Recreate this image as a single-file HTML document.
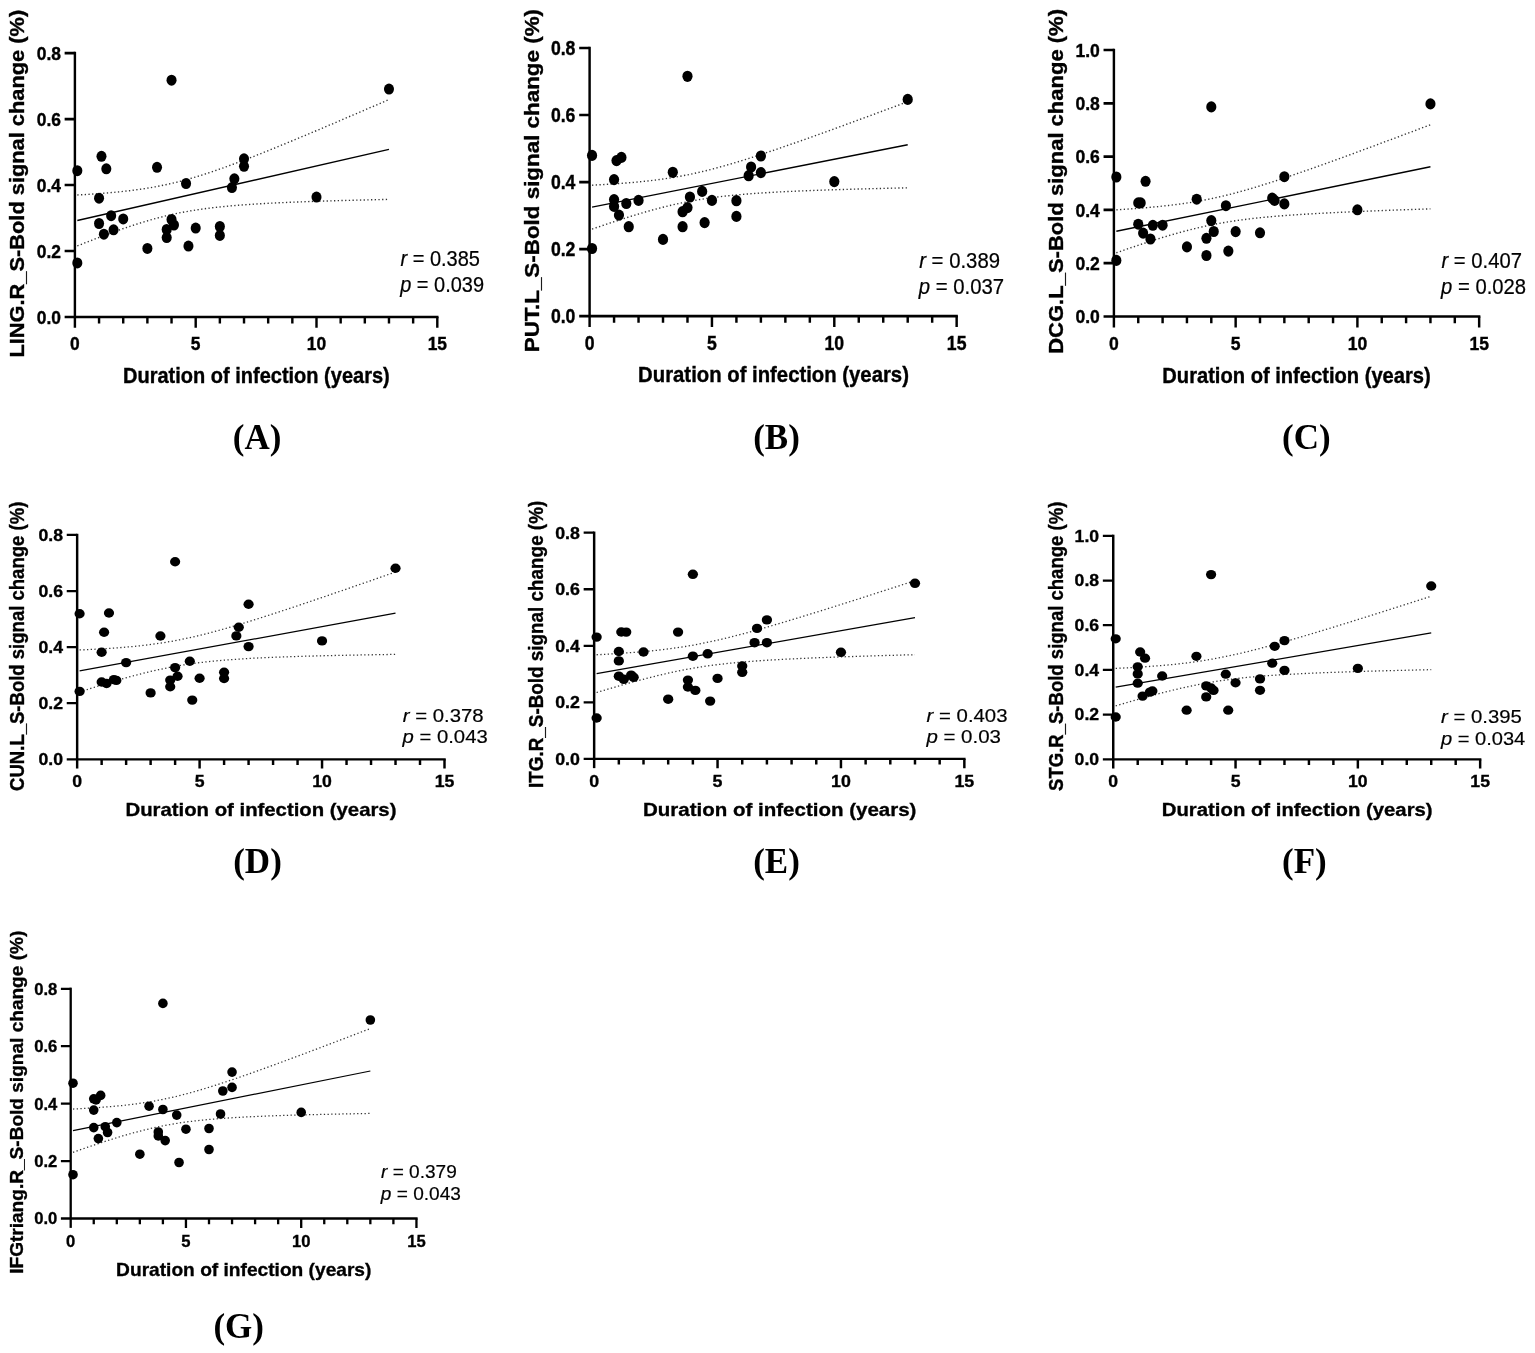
<!DOCTYPE html>
<html lang="en"><head><meta charset="utf-8"><title>S-Bold signal change vs duration of infection</title>
<style>
html,body{margin:0;padding:0;background:#fff}
svg{display:block}
text{font-family:"Liberation Sans",Arial,Helvetica,sans-serif;fill:#000}
.b{font-weight:700;stroke:#000;stroke-width:.35px}
.n{stroke:#000;stroke-width:.2px}
.lab{font-family:"Liberation Serif","Times New Roman",Times,serif;font-size:35px;font-weight:700}
.ci{fill:none;stroke:#333;stroke-dasharray:1.3 2.4}
</style></head>
<body>
<svg width="1535" height="1353" viewBox="0 0 1535 1353">
<rect width="1535" height="1353" fill="#fff"/>
<g id="panelA">
<path d="M74.9 51.78V327.78" stroke="#000" stroke-width="2.42" fill="none"/>
<path d="M64.63 317H438.51" stroke="#000" stroke-width="2.64" fill="none"/>
<path d="M64.63 251.03H74.9M64.63 185.05H74.9M64.63 119.08H74.9M64.63 53.1H74.9" stroke="#000" stroke-width="2.64" fill="none"/>
<path d="M99.06 317v6.6M123.22 317v6.6M147.38 317v6.6M171.54 317v6.6M195.7 317v10.78M219.86 317v6.6M244.02 317v6.6M268.18 317v6.6M292.34 317v6.6M316.5 317v10.78M340.66 317v6.6M364.82 317v6.6M388.98 317v6.6M413.14 317v6.6M437.3 317v10.78" stroke="#000" stroke-width="2.42" fill="none"/>
<text transform="translate(60.91 323.81) scale(1.0067 1.0996)" font-size="17.3" class="b" text-anchor="end">0.0</text>
<text transform="translate(60.91 257.84) scale(1.0067 1.0996)" font-size="17.3" class="b" text-anchor="end">0.2</text>
<text transform="translate(60.91 191.86) scale(1.0067 1.0996)" font-size="17.3" class="b" text-anchor="end">0.4</text>
<text transform="translate(60.91 125.89) scale(1.0067 1.0996)" font-size="17.3" class="b" text-anchor="end">0.6</text>
<text transform="translate(60.91 59.91) scale(1.0067 1.0996)" font-size="17.3" class="b" text-anchor="end">0.8</text>
<text transform="translate(74.9 349.88) scale(1.0067 1.0996)" font-size="17.3" class="b" text-anchor="middle">0</text>
<text transform="translate(195.7 349.88) scale(1.0067 1.0996)" font-size="17.3" class="b" text-anchor="middle">5</text>
<text transform="translate(316.5 349.88) scale(1.0067 1.0996)" font-size="17.3" class="b" text-anchor="middle">10</text>
<text transform="translate(437.3 349.88) scale(1.0067 1.0996)" font-size="17.3" class="b" text-anchor="middle">15</text>
<text transform="translate(256.35 383.1) scale(1.0067 1.0996)" font-size="19.77" class="b" text-anchor="middle" textLength="264.93" lengthAdjust="spacingAndGlyphs">Duration of infection (years)</text>
<text transform="translate(24.2 183.7) scale(1.0067 1.0996) rotate(-90)" font-size="19.77" class="b" text-anchor="middle" textLength="316.3" lengthAdjust="spacingAndGlyphs">LING.R_S-Bold signal change (%)</text>
<text transform="translate(400.5 266.3) scale(1.0067 1.0996)" font-size="19.5" class="n" textLength="78.97" lengthAdjust="spacingAndGlyphs"><tspan font-style="italic">r</tspan> = 0.385</text>
<text transform="translate(400.2 291.8) scale(1.0067 1.0996)" font-size="19.5" class="n" textLength="83.34" lengthAdjust="spacingAndGlyphs"><tspan font-style="italic">p</tspan> = 0.039</text>
<path d="M77.32 195.01L82.51 194.71L87.7 194.38L92.9 194.04L98.09 193.67L103.29 193.27L108.48 192.83L113.68 192.37L118.87 191.86L124.07 191.31L129.26 190.71L134.45 190.05L139.65 189.34L144.84 188.57L150.04 187.72L155.23 186.81L160.43 185.82L165.62 184.74L170.82 183.59L176.01 182.36L181.2 181.04L186.4 179.65L191.59 178.18L196.79 176.64L201.98 175.03L207.18 173.37L212.37 171.64L217.56 169.86L222.76 168.03L227.95 166.16L233.15 164.25L238.34 162.31L243.54 160.34L248.73 158.34L253.93 156.31L259.12 154.26L264.31 152.19L269.51 150.1L274.7 148L279.9 145.88L285.09 143.75L290.29 141.6L295.48 139.45L300.68 137.28L305.87 135.11L311.06 132.92L316.26 130.73L321.45 128.53L326.65 126.33L331.84 124.12L337.04 121.9L342.23 119.68L347.42 117.46L352.62 115.23L357.81 112.99L363.01 110.76L368.2 108.52L373.4 106.27L378.59 104.02L383.79 101.77L388.98 99.52" class="ci" stroke-width="1.37"/>
<path d="M77.32 245.93L82.51 243.87L87.7 241.82L92.9 239.8L98.09 237.8L103.29 235.84L108.48 233.9L113.68 232L118.87 230.14L124.07 228.33L129.26 226.56L134.45 224.85L139.65 223.19L144.84 221.6L150.04 220.07L155.23 218.62L160.43 217.25L165.62 215.95L170.82 214.74L176.01 213.6L181.2 212.55L186.4 211.58L191.59 210.68L196.79 209.85L201.98 209.09L207.18 208.39L212.37 207.75L217.56 207.17L222.76 206.63L227.95 206.13L233.15 205.67L238.34 205.24L243.54 204.85L248.73 204.49L253.93 204.15L259.12 203.83L264.31 203.53L269.51 203.25L274.7 202.99L279.9 202.74L285.09 202.51L290.29 202.28L295.48 202.07L300.68 201.87L305.87 201.68L311.06 201.49L316.26 201.32L321.45 201.15L326.65 200.98L331.84 200.83L337.04 200.68L342.23 200.53L347.42 200.39L352.62 200.25L357.81 200.12L363.01 199.99L368.2 199.86L373.4 199.74L378.59 199.62L383.79 199.5L388.98 199.39" class="ci" stroke-width="1.37"/>
<path d="M77.32 220.47L388.98 149.45" stroke="#000" stroke-width="1.37" fill="none"/>
<ellipse cx="171.54" cy="80.2" rx="5.03" ry="5.5"/>
<ellipse cx="101.48" cy="156.3" rx="5.03" ry="5.5"/>
<ellipse cx="106.31" cy="168.8" rx="5.03" ry="5.5"/>
<ellipse cx="77.32" cy="170.7" rx="5.03" ry="5.5"/>
<ellipse cx="157.04" cy="167.3" rx="5.03" ry="5.5"/>
<ellipse cx="244.02" cy="158.8" rx="5.03" ry="5.5"/>
<ellipse cx="244.02" cy="166.3" rx="5.03" ry="5.5"/>
<ellipse cx="234.36" cy="178.8" rx="5.03" ry="5.5"/>
<ellipse cx="231.94" cy="187.6" rx="5.03" ry="5.5"/>
<ellipse cx="186.04" cy="183.5" rx="5.03" ry="5.5"/>
<ellipse cx="99.06" cy="198.2" rx="5.03" ry="5.5"/>
<ellipse cx="111.14" cy="215.7" rx="5.03" ry="5.5"/>
<ellipse cx="123.22" cy="218.9" rx="5.03" ry="5.5"/>
<ellipse cx="99.06" cy="223.5" rx="5.03" ry="5.5"/>
<ellipse cx="113.56" cy="229.8" rx="5.03" ry="5.5"/>
<ellipse cx="103.89" cy="234.2" rx="5.03" ry="5.5"/>
<ellipse cx="171.54" cy="219.5" rx="5.03" ry="5.5"/>
<ellipse cx="173.96" cy="225" rx="5.03" ry="5.5"/>
<ellipse cx="166.71" cy="229.5" rx="5.03" ry="5.5"/>
<ellipse cx="166.71" cy="237.6" rx="5.03" ry="5.5"/>
<ellipse cx="195.7" cy="228.1" rx="5.03" ry="5.5"/>
<ellipse cx="219.86" cy="226.5" rx="5.03" ry="5.5"/>
<ellipse cx="219.86" cy="235.4" rx="5.03" ry="5.5"/>
<ellipse cx="188.45" cy="246.1" rx="5.03" ry="5.5"/>
<ellipse cx="147.38" cy="248.4" rx="5.03" ry="5.5"/>
<ellipse cx="77.32" cy="262.9" rx="5.03" ry="5.5"/>
<ellipse cx="316.5" cy="197.1" rx="5.03" ry="5.5"/>
<ellipse cx="388.98" cy="89.1" rx="5.03" ry="5.5"/>
<text x="257.15" y="448.7" class="lab" text-anchor="middle">(A)</text>
</g>
<g id="panelB">
<path d="M589.6 46.66V327.05" stroke="#000" stroke-width="2.45" fill="none"/>
<path d="M579.2 316.1H957.87" stroke="#000" stroke-width="2.68" fill="none"/>
<path d="M579.2 249.08H589.6M579.2 182.05H589.6M579.2 115.03H589.6M579.2 48H589.6" stroke="#000" stroke-width="2.68" fill="none"/>
<path d="M614.07 316.1v6.7M638.54 316.1v6.7M663.01 316.1v6.7M687.48 316.1v6.7M711.95 316.1v10.95M736.42 316.1v6.7M760.89 316.1v6.7M785.36 316.1v6.7M809.83 316.1v6.7M834.3 316.1v10.95M858.77 316.1v6.7M883.24 316.1v6.7M907.71 316.1v6.7M932.18 316.1v6.7M956.65 316.1v10.95" stroke="#000" stroke-width="2.45" fill="none"/>
<text transform="translate(575.43 323.02) scale(1.0196 1.1171)" font-size="17.3" class="b" text-anchor="end">0.0</text>
<text transform="translate(575.43 255.99) scale(1.0196 1.1171)" font-size="17.3" class="b" text-anchor="end">0.2</text>
<text transform="translate(575.43 188.97) scale(1.0196 1.1171)" font-size="17.3" class="b" text-anchor="end">0.4</text>
<text transform="translate(575.43 121.94) scale(1.0196 1.1171)" font-size="17.3" class="b" text-anchor="end">0.6</text>
<text transform="translate(575.43 54.92) scale(1.0196 1.1171)" font-size="17.3" class="b" text-anchor="end">0.8</text>
<text transform="translate(589.6 349.5) scale(1.0196 1.1171)" font-size="17.3" class="b" text-anchor="middle">0</text>
<text transform="translate(711.95 349.5) scale(1.0196 1.1171)" font-size="17.3" class="b" text-anchor="middle">5</text>
<text transform="translate(834.3 349.5) scale(1.0196 1.1171)" font-size="17.3" class="b" text-anchor="middle">10</text>
<text transform="translate(956.65 349.5) scale(1.0196 1.1171)" font-size="17.3" class="b" text-anchor="middle">15</text>
<text transform="translate(773.5 382.4) scale(1.0196 1.1171)" font-size="19.77" class="b" text-anchor="middle" textLength="265.6" lengthAdjust="spacingAndGlyphs">Duration of infection (years)</text>
<text transform="translate(539.2 180.65) scale(1.0196 1.1171) rotate(-90)" font-size="19.77" class="b" text-anchor="middle" textLength="307.32" lengthAdjust="spacingAndGlyphs">PUT.L_S-Bold signal change (%)</text>
<text transform="translate(919.2 267.6) scale(1.0196 1.1171)" font-size="19.5" class="n" textLength="79.25" lengthAdjust="spacingAndGlyphs"><tspan font-style="italic">r</tspan> = 0.389</text>
<text transform="translate(918.7 293.8) scale(1.0196 1.1171)" font-size="19.5" class="n" textLength="83.76" lengthAdjust="spacingAndGlyphs"><tspan font-style="italic">p</tspan> = 0.037</text>
<path d="M592.05 185.19L597.31 184.91L602.57 184.61L607.83 184.29L613.09 183.95L618.35 183.59L623.61 183.2L628.87 182.77L634.14 182.32L639.4 181.82L644.66 181.29L649.92 180.71L655.18 180.07L660.44 179.39L665.7 178.64L670.96 177.83L676.22 176.95L681.48 176.01L686.75 175L692.01 173.92L697.27 172.76L702.53 171.54L707.79 170.26L713.05 168.91L718.31 167.5L723.57 166.05L728.83 164.54L734.1 162.98L739.36 161.39L744.62 159.76L749.88 158.09L755.14 156.4L760.4 154.68L765.66 152.93L770.92 151.16L776.18 149.38L781.44 147.57L786.71 145.75L791.97 143.92L797.23 142.07L802.49 140.21L807.75 138.35L813.01 136.47L818.27 134.58L823.53 132.69L828.79 130.78L834.06 128.88L839.32 126.96L844.58 125.04L849.84 123.12L855.1 121.19L860.36 119.25L865.62 117.31L870.88 115.37L876.14 113.43L881.4 111.48L886.67 109.53L891.93 107.57L897.19 105.61L902.45 103.65L907.71 101.69" class="ci" stroke-width="1.39"/>
<path d="M592.05 229.11L597.31 227.31L602.57 225.52L607.83 223.76L613.09 222.02L618.35 220.31L623.61 218.62L628.87 216.96L634.14 215.34L639.4 213.75L644.66 212.21L649.92 210.71L655.18 209.27L660.44 207.87L665.7 206.54L670.96 205.27L676.22 204.06L681.48 202.93L686.75 201.86L692.01 200.86L697.27 199.94L702.53 199.08L707.79 198.28L713.05 197.55L718.31 196.88L723.57 196.26L728.83 195.69L734.1 195.16L739.36 194.68L744.62 194.23L749.88 193.81L755.14 193.43L760.4 193.07L765.66 192.73L770.92 192.42L776.18 192.13L781.44 191.85L786.71 191.59L791.97 191.35L797.23 191.12L802.49 190.89L807.75 190.68L813.01 190.48L818.27 190.29L823.53 190.1L828.79 189.93L834.06 189.76L839.32 189.59L844.58 189.43L849.84 189.28L855.1 189.13L860.36 188.98L865.62 188.84L870.88 188.7L876.14 188.57L881.4 188.44L886.67 188.31L891.93 188.18L897.19 188.06L902.45 187.94L907.71 187.82" class="ci" stroke-width="1.39"/>
<path d="M592.05 207.15L907.71 144.76" stroke="#000" stroke-width="1.39" fill="none"/>
<ellipse cx="687.48" cy="76.3" rx="5.1" ry="5.59"/>
<ellipse cx="592.05" cy="155.4" rx="5.1" ry="5.59"/>
<ellipse cx="616.52" cy="160.6" rx="5.1" ry="5.59"/>
<ellipse cx="621.41" cy="157.4" rx="5.1" ry="5.59"/>
<ellipse cx="614.07" cy="179.6" rx="5.1" ry="5.59"/>
<ellipse cx="672.8" cy="172.3" rx="5.1" ry="5.59"/>
<ellipse cx="760.89" cy="156" rx="5.1" ry="5.59"/>
<ellipse cx="751.1" cy="167" rx="5.1" ry="5.59"/>
<ellipse cx="748.65" cy="175.7" rx="5.1" ry="5.59"/>
<ellipse cx="760.89" cy="172.6" rx="5.1" ry="5.59"/>
<ellipse cx="614.07" cy="199.6" rx="5.1" ry="5.59"/>
<ellipse cx="614.07" cy="206.4" rx="5.1" ry="5.59"/>
<ellipse cx="626.31" cy="203.5" rx="5.1" ry="5.59"/>
<ellipse cx="638.54" cy="200.4" rx="5.1" ry="5.59"/>
<ellipse cx="618.96" cy="215.1" rx="5.1" ry="5.59"/>
<ellipse cx="628.75" cy="226.7" rx="5.1" ry="5.59"/>
<ellipse cx="702.16" cy="191.4" rx="5.1" ry="5.59"/>
<ellipse cx="689.93" cy="197" rx="5.1" ry="5.59"/>
<ellipse cx="711.95" cy="200.4" rx="5.1" ry="5.59"/>
<ellipse cx="736.42" cy="200.7" rx="5.1" ry="5.59"/>
<ellipse cx="687.48" cy="207.6" rx="5.1" ry="5.59"/>
<ellipse cx="682.59" cy="211.7" rx="5.1" ry="5.59"/>
<ellipse cx="736.42" cy="216.4" rx="5.1" ry="5.59"/>
<ellipse cx="704.61" cy="222.6" rx="5.1" ry="5.59"/>
<ellipse cx="682.59" cy="226.7" rx="5.1" ry="5.59"/>
<ellipse cx="663.01" cy="239.4" rx="5.1" ry="5.59"/>
<ellipse cx="592.05" cy="248.5" rx="5.1" ry="5.59"/>
<ellipse cx="834.3" cy="181.6" rx="5.1" ry="5.59"/>
<ellipse cx="907.71" cy="99.4" rx="5.1" ry="5.59"/>
<text x="776.5" y="448.6" class="lab" text-anchor="middle">(B)</text>
</g>
<g id="panelC">
<path d="M1113.9 48.67V327.38" stroke="#000" stroke-width="2.44" fill="none"/>
<path d="M1103.55 316.5H1480.37" stroke="#000" stroke-width="2.66" fill="none"/>
<path d="M1103.55 263.2H1113.9M1103.55 209.9H1113.9M1103.55 156.6H1113.9M1103.55 103.3H1113.9M1103.55 50H1113.9" stroke="#000" stroke-width="2.66" fill="none"/>
<path d="M1138.25 316.5v6.66M1162.6 316.5v6.66M1186.95 316.5v6.66M1211.3 316.5v6.66M1235.65 316.5v10.88M1260 316.5v6.66M1284.35 316.5v6.66M1308.7 316.5v6.66M1333.05 316.5v6.66M1357.4 316.5v10.88M1381.75 316.5v6.66M1406.1 316.5v6.66M1430.45 316.5v6.66M1454.8 316.5v6.66M1479.15 316.5v10.88" stroke="#000" stroke-width="2.44" fill="none"/>
<text transform="translate(1099.8 323.38) scale(1.0146 1.1104)" font-size="17.3" class="b" text-anchor="end">0.0</text>
<text transform="translate(1099.8 270.08) scale(1.0146 1.1104)" font-size="17.3" class="b" text-anchor="end">0.2</text>
<text transform="translate(1099.8 216.78) scale(1.0146 1.1104)" font-size="17.3" class="b" text-anchor="end">0.4</text>
<text transform="translate(1099.8 163.48) scale(1.0146 1.1104)" font-size="17.3" class="b" text-anchor="end">0.6</text>
<text transform="translate(1099.8 110.18) scale(1.0146 1.1104)" font-size="17.3" class="b" text-anchor="end">0.8</text>
<text transform="translate(1099.8 56.88) scale(1.0146 1.1104)" font-size="17.3" class="b" text-anchor="end">1.0</text>
<text transform="translate(1113.9 349.7) scale(1.0146 1.1104)" font-size="17.3" class="b" text-anchor="middle">0</text>
<text transform="translate(1235.65 349.7) scale(1.0146 1.1104)" font-size="17.3" class="b" text-anchor="middle">5</text>
<text transform="translate(1357.4 349.7) scale(1.0146 1.1104)" font-size="17.3" class="b" text-anchor="middle">10</text>
<text transform="translate(1479.15 349.7) scale(1.0146 1.1104)" font-size="17.3" class="b" text-anchor="middle">15</text>
<text transform="translate(1296.5 382.7) scale(1.0146 1.1104)" font-size="19.77" class="b" text-anchor="middle" textLength="264.54" lengthAdjust="spacingAndGlyphs">Duration of infection (years)</text>
<text transform="translate(1063.1 181.4) scale(1.0146 1.1104) rotate(-90)" font-size="19.77" class="b" text-anchor="middle" textLength="310.51" lengthAdjust="spacingAndGlyphs">DCG.L_S-Bold signal change (%)</text>
<text transform="translate(1441.5 268.3) scale(1.0146 1.1104)" font-size="19.5" class="n" textLength="79.24" lengthAdjust="spacingAndGlyphs"><tspan font-style="italic">r</tspan> = 0.407</text>
<text transform="translate(1441.1 293.8) scale(1.0146 1.1104)" font-size="19.5" class="n" textLength="83.68" lengthAdjust="spacingAndGlyphs"><tspan font-style="italic">p</tspan> = 0.028</text>
<path d="M1116.34 209.84L1121.57 209.51L1126.81 209.16L1132.04 208.79L1137.28 208.4L1142.51 207.99L1147.75 207.54L1152.98 207.07L1158.22 206.57L1163.45 206.02L1168.69 205.44L1173.92 204.81L1179.16 204.14L1184.39 203.4L1189.63 202.62L1194.86 201.77L1200.1 200.85L1205.33 199.87L1210.57 198.82L1215.8 197.7L1221.04 196.52L1226.28 195.27L1231.51 193.95L1236.75 192.58L1241.98 191.14L1247.22 189.66L1252.45 188.13L1257.69 186.55L1262.92 184.93L1268.16 183.28L1273.39 181.59L1278.63 179.88L1283.86 178.14L1289.1 176.37L1294.33 174.59L1299.57 172.78L1304.8 170.96L1310.04 169.13L1315.27 167.27L1320.51 165.41L1325.75 163.54L1330.98 161.65L1336.22 159.76L1341.45 157.85L1346.69 155.94L1351.92 154.03L1357.16 152.1L1362.39 150.17L1367.63 148.24L1372.86 146.3L1378.1 144.35L1383.33 142.4L1388.57 140.45L1393.8 138.5L1399.04 136.54L1404.27 134.57L1409.51 132.61L1414.74 130.64L1419.98 128.67L1425.21 126.69L1430.45 124.72" class="ci" stroke-width="1.38"/>
<path d="M1116.34 252.75L1121.57 250.93L1126.81 249.13L1132.04 247.35L1137.28 245.59L1142.51 243.85L1147.75 242.15L1152.98 240.47L1158.22 238.82L1163.45 237.21L1168.69 235.65L1173.92 234.13L1179.16 232.65L1184.39 231.23L1189.63 229.87L1194.86 228.57L1200.1 227.33L1205.33 226.17L1210.57 225.06L1215.8 224.03L1221.04 223.07L1226.28 222.17L1231.51 221.33L1236.75 220.56L1241.98 219.84L1247.22 219.17L1252.45 218.56L1257.69 217.98L1262.92 217.45L1268.16 216.95L1273.39 216.49L1278.63 216.05L1283.86 215.64L1289.1 215.26L1294.33 214.89L1299.57 214.55L1304.8 214.22L1310.04 213.91L1315.27 213.61L1320.51 213.32L1325.75 213.04L1330.98 212.78L1336.22 212.52L1341.45 212.27L1346.69 212.03L1351.92 211.8L1357.16 211.58L1362.39 211.35L1367.63 211.14L1372.86 210.93L1378.1 210.72L1383.33 210.52L1388.57 210.33L1393.8 210.13L1399.04 209.94L1404.27 209.75L1409.51 209.57L1414.74 209.39L1419.98 209.21L1425.21 209.03L1430.45 208.86" class="ci" stroke-width="1.38"/>
<path d="M1116.34 231.3L1430.45 166.79" stroke="#000" stroke-width="1.38" fill="none"/>
<ellipse cx="1211.3" cy="106.9" rx="5.07" ry="5.55"/>
<ellipse cx="1116.34" cy="177" rx="5.07" ry="5.55"/>
<ellipse cx="1145.56" cy="181.3" rx="5.07" ry="5.55"/>
<ellipse cx="1284.35" cy="176.7" rx="5.07" ry="5.55"/>
<ellipse cx="1138.25" cy="202.9" rx="5.07" ry="5.55"/>
<ellipse cx="1140.69" cy="202.9" rx="5.07" ry="5.55"/>
<ellipse cx="1196.69" cy="199.2" rx="5.07" ry="5.55"/>
<ellipse cx="1272.18" cy="198.1" rx="5.07" ry="5.55"/>
<ellipse cx="1274.61" cy="200.4" rx="5.07" ry="5.55"/>
<ellipse cx="1284.35" cy="203.9" rx="5.07" ry="5.55"/>
<ellipse cx="1225.91" cy="205.7" rx="5.07" ry="5.55"/>
<ellipse cx="1211.3" cy="220.6" rx="5.07" ry="5.55"/>
<ellipse cx="1138.25" cy="224.2" rx="5.07" ry="5.55"/>
<ellipse cx="1152.86" cy="225.3" rx="5.07" ry="5.55"/>
<ellipse cx="1162.6" cy="225.2" rx="5.07" ry="5.55"/>
<ellipse cx="1143.12" cy="233.1" rx="5.07" ry="5.55"/>
<ellipse cx="1150.43" cy="239" rx="5.07" ry="5.55"/>
<ellipse cx="1213.74" cy="231.5" rx="5.07" ry="5.55"/>
<ellipse cx="1235.65" cy="231.6" rx="5.07" ry="5.55"/>
<ellipse cx="1260" cy="232.8" rx="5.07" ry="5.55"/>
<ellipse cx="1206.43" cy="238.3" rx="5.07" ry="5.55"/>
<ellipse cx="1186.95" cy="246.9" rx="5.07" ry="5.55"/>
<ellipse cx="1206.43" cy="255.5" rx="5.07" ry="5.55"/>
<ellipse cx="1228.35" cy="251.1" rx="5.07" ry="5.55"/>
<ellipse cx="1116.34" cy="260.4" rx="5.07" ry="5.55"/>
<ellipse cx="1357.4" cy="209.8" rx="5.07" ry="5.55"/>
<ellipse cx="1430.45" cy="103.9" rx="5.07" ry="5.55"/>
<text x="1306.3" y="448.6" class="lab" text-anchor="middle">(C)</text>
</g>
<g id="panelD">
<path d="M77.15 533.78V768.52" stroke="#000" stroke-width="2.45" fill="none"/>
<path d="M66.74 759.35H445.72" stroke="#000" stroke-width="2.24" fill="none"/>
<path d="M66.74 703.24H77.15M66.74 647.12H77.15M66.74 591.01H77.15M66.74 534.9H77.15" stroke="#000" stroke-width="2.24" fill="none"/>
<path d="M101.64 759.35v5.61M126.13 759.35v5.61M150.62 759.35v5.61M175.11 759.35v5.61M199.6 759.35v9.17M224.09 759.35v5.61M248.58 759.35v5.61M273.07 759.35v5.61M297.56 759.35v5.61M322.05 759.35v9.17M346.54 759.35v5.61M371.03 759.35v5.61M395.52 759.35v5.61M420.01 759.35v5.61M444.5 759.35v9.17" stroke="#000" stroke-width="2.45" fill="none"/>
<text transform="translate(62.97 765.14) scale(1.0204 0.9352)" font-size="17.3" class="b" text-anchor="end">0.0</text>
<text transform="translate(62.97 709.03) scale(1.0204 0.9352)" font-size="17.3" class="b" text-anchor="end">0.2</text>
<text transform="translate(62.97 652.92) scale(1.0204 0.9352)" font-size="17.3" class="b" text-anchor="end">0.4</text>
<text transform="translate(62.97 596.8) scale(1.0204 0.9352)" font-size="17.3" class="b" text-anchor="end">0.6</text>
<text transform="translate(62.97 540.69) scale(1.0204 0.9352)" font-size="17.3" class="b" text-anchor="end">0.8</text>
<text transform="translate(77.15 787.31) scale(1.0204 0.9352)" font-size="17.3" class="b" text-anchor="middle">0</text>
<text transform="translate(199.6 787.31) scale(1.0204 0.9352)" font-size="17.3" class="b" text-anchor="middle">5</text>
<text transform="translate(322.05 787.31) scale(1.0204 0.9352)" font-size="17.3" class="b" text-anchor="middle">10</text>
<text transform="translate(444.5 787.31) scale(1.0204 0.9352)" font-size="17.3" class="b" text-anchor="middle">15</text>
<text transform="translate(260.95 815.5) scale(1.0204 0.9352)" font-size="19.77" class="b" text-anchor="middle" textLength="265.48" lengthAdjust="spacingAndGlyphs">Duration of infection (years)</text>
<text transform="translate(24.2 646.3) scale(1.0204 0.9352) rotate(-90)" font-size="19.77" class="b" text-anchor="middle" textLength="309.24" lengthAdjust="spacingAndGlyphs">CUN.L_S-Bold signal change (%)</text>
<text transform="translate(402.8 721.5) scale(1.0204 0.9352)" font-size="19.5" class="n" textLength="79.18" lengthAdjust="spacingAndGlyphs"><tspan font-style="italic">r</tspan> = 0.378</text>
<text transform="translate(402.6 742.9) scale(1.0204 0.9352)" font-size="19.5" class="n" textLength="83.4" lengthAdjust="spacingAndGlyphs"><tspan font-style="italic">p</tspan> = 0.043</text>
<path d="M79.6 649.98L84.86 649.74L90.13 649.49L95.4 649.22L100.66 648.92L105.93 648.61L111.19 648.26L116.46 647.89L121.72 647.49L126.99 647.04L132.25 646.56L137.52 646.04L142.78 645.46L148.05 644.84L153.31 644.15L158.58 643.41L163.84 642.61L169.11 641.74L174.38 640.8L179.64 639.79L184.91 638.72L190.17 637.59L195.44 636.39L200.7 635.13L205.97 633.82L211.23 632.45L216.5 631.04L221.76 629.59L227.03 628.09L232.29 626.57L237.56 625L242.82 623.41L248.09 621.8L253.36 620.16L258.62 618.5L263.89 616.82L269.15 615.13L274.42 613.42L279.68 611.7L284.95 609.96L290.21 608.22L295.48 606.46L300.74 604.7L306.01 602.92L311.27 601.14L316.54 599.35L321.81 597.56L327.07 595.76L332.34 593.95L337.6 592.14L342.87 590.33L348.13 588.51L353.4 586.69L358.66 584.86L363.93 583.03L369.19 581.2L374.46 579.36L379.72 577.53L384.99 575.69L390.25 573.84L395.52 572" class="ci" stroke-width="1.27"/>
<path d="M79.6 691.99L84.86 690.3L90.13 688.62L95.4 686.97L100.66 685.34L105.93 683.73L111.19 682.14L116.46 680.59L121.72 679.07L126.99 677.58L132.25 676.14L137.52 674.74L142.78 673.39L148.05 672.09L153.31 670.84L158.58 669.66L163.84 668.54L169.11 667.48L174.38 666.49L179.64 665.57L184.91 664.72L190.17 663.93L195.44 663.2L200.7 662.53L205.97 661.91L211.23 661.35L216.5 660.84L221.76 660.37L227.03 659.93L232.29 659.54L237.56 659.17L242.82 658.83L248.09 658.52L253.36 658.23L258.62 657.97L263.89 657.72L269.15 657.49L274.42 657.27L279.68 657.06L284.95 656.87L290.21 656.69L295.48 656.52L300.74 656.36L306.01 656.21L311.27 656.06L316.54 655.92L321.81 655.79L327.07 655.67L332.34 655.54L337.6 655.43L342.87 655.32L348.13 655.21L353.4 655.1L358.66 655L363.93 654.91L369.19 654.81L374.46 654.72L379.72 654.63L384.99 654.55L390.25 654.47L395.52 654.38" class="ci" stroke-width="1.27"/>
<path d="M79.6 670.98L395.52 613.19" stroke="#000" stroke-width="1.27" fill="none"/>
<ellipse cx="175.11" cy="561.7" rx="5.1" ry="4.68"/>
<ellipse cx="79.6" cy="613.8" rx="5.1" ry="4.68"/>
<ellipse cx="108.99" cy="613" rx="5.1" ry="4.68"/>
<ellipse cx="248.58" cy="604.3" rx="5.1" ry="4.68"/>
<ellipse cx="104.09" cy="632.3" rx="5.1" ry="4.68"/>
<ellipse cx="160.42" cy="636" rx="5.1" ry="4.68"/>
<ellipse cx="238.78" cy="627.3" rx="5.1" ry="4.68"/>
<ellipse cx="236.34" cy="635.9" rx="5.1" ry="4.68"/>
<ellipse cx="248.58" cy="646.6" rx="5.1" ry="4.68"/>
<ellipse cx="101.64" cy="652.3" rx="5.1" ry="4.68"/>
<ellipse cx="126.13" cy="662.6" rx="5.1" ry="4.68"/>
<ellipse cx="189.8" cy="661.3" rx="5.1" ry="4.68"/>
<ellipse cx="175.11" cy="667.6" rx="5.1" ry="4.68"/>
<ellipse cx="177.56" cy="676.2" rx="5.1" ry="4.68"/>
<ellipse cx="224.09" cy="672.3" rx="5.1" ry="4.68"/>
<ellipse cx="224.09" cy="678.5" rx="5.1" ry="4.68"/>
<ellipse cx="199.6" cy="678.2" rx="5.1" ry="4.68"/>
<ellipse cx="170.21" cy="680.1" rx="5.1" ry="4.68"/>
<ellipse cx="170.21" cy="686.7" rx="5.1" ry="4.68"/>
<ellipse cx="101.64" cy="682" rx="5.1" ry="4.68"/>
<ellipse cx="106.54" cy="683.5" rx="5.1" ry="4.68"/>
<ellipse cx="113.89" cy="679.6" rx="5.1" ry="4.68"/>
<ellipse cx="116.33" cy="680.4" rx="5.1" ry="4.68"/>
<ellipse cx="150.62" cy="692.9" rx="5.1" ry="4.68"/>
<ellipse cx="192.25" cy="700.1" rx="5.1" ry="4.68"/>
<ellipse cx="79.6" cy="691.4" rx="5.1" ry="4.68"/>
<ellipse cx="322.05" cy="640.9" rx="5.1" ry="4.68"/>
<ellipse cx="395.52" cy="568.2" rx="5.1" ry="4.68"/>
<text x="257.5" y="872.9" class="lab" text-anchor="middle">(D)</text>
</g>
<g id="panelE">
<path d="M594.15 531.57V768.14" stroke="#000" stroke-width="2.47" fill="none"/>
<path d="M583.66 758.9H965.58" stroke="#000" stroke-width="2.26" fill="none"/>
<path d="M583.66 702.35H594.15M583.66 645.8H594.15M583.66 589.25H594.15M583.66 532.7H594.15" stroke="#000" stroke-width="2.26" fill="none"/>
<path d="M618.83 758.9v5.65M643.51 758.9v5.65M668.19 758.9v5.65M692.87 758.9v5.65M717.55 758.9v9.24M742.23 758.9v5.65M766.91 758.9v5.65M791.59 758.9v5.65M816.27 758.9v5.65M840.95 758.9v9.24M865.63 758.9v5.65M890.31 758.9v5.65M914.99 758.9v5.65M939.67 758.9v5.65M964.35 758.9v9.24" stroke="#000" stroke-width="2.47" fill="none"/>
<text transform="translate(579.86 764.74) scale(1.0283 0.9425)" font-size="17.3" class="b" text-anchor="end">0.0</text>
<text transform="translate(579.86 708.19) scale(1.0283 0.9425)" font-size="17.3" class="b" text-anchor="end">0.2</text>
<text transform="translate(579.86 651.64) scale(1.0283 0.9425)" font-size="17.3" class="b" text-anchor="end">0.4</text>
<text transform="translate(579.86 595.09) scale(1.0283 0.9425)" font-size="17.3" class="b" text-anchor="end">0.6</text>
<text transform="translate(579.86 538.54) scale(1.0283 0.9425)" font-size="17.3" class="b" text-anchor="end">0.8</text>
<text transform="translate(594.15 787.08) scale(1.0283 0.9425)" font-size="17.3" class="b" text-anchor="middle">0</text>
<text transform="translate(717.55 787.08) scale(1.0283 0.9425)" font-size="17.3" class="b" text-anchor="middle">5</text>
<text transform="translate(840.95 787.08) scale(1.0283 0.9425)" font-size="17.3" class="b" text-anchor="middle">10</text>
<text transform="translate(964.35 787.08) scale(1.0283 0.9425)" font-size="17.3" class="b" text-anchor="middle">15</text>
<text transform="translate(779.7 815.5) scale(1.0283 0.9425)" font-size="19.77" class="b" text-anchor="middle" textLength="265.87" lengthAdjust="spacingAndGlyphs">Duration of infection (years)</text>
<text transform="translate(543.1 644.4) scale(1.0283 0.9425) rotate(-90)" font-size="19.77" class="b" text-anchor="middle" textLength="304.72" lengthAdjust="spacingAndGlyphs">ITG.R_S-Bold signal change (%)</text>
<text transform="translate(926.6 721.5) scale(1.0283 0.9425)" font-size="19.5" class="n" textLength="78.67" lengthAdjust="spacingAndGlyphs"><tspan font-style="italic">r</tspan> = 0.403</text>
<text transform="translate(926.4 742.9) scale(1.0283 0.9425)" font-size="19.5" class="n" textLength="72.45" lengthAdjust="spacingAndGlyphs"><tspan font-style="italic">p</tspan> = 0.03</text>
<path d="M596.62 654.75L601.92 654.47L607.23 654.18L612.54 653.87L617.84 653.54L623.15 653.19L628.46 652.81L633.76 652.41L639.07 651.98L644.37 651.51L649.68 651.01L654.99 650.48L660.29 649.89L665.6 649.26L670.9 648.58L676.21 647.85L681.52 647.06L686.82 646.21L692.13 645.3L697.44 644.33L702.74 643.3L708.05 642.21L713.35 641.07L718.66 639.87L723.97 638.62L729.27 637.33L734.58 636L739.89 634.62L745.19 633.21L750.5 631.77L755.8 630.3L761.11 628.81L766.42 627.29L771.72 625.75L777.03 624.19L782.34 622.61L787.64 621.03L792.95 619.42L798.25 617.81L803.56 616.18L808.87 614.54L814.17 612.9L819.48 611.25L824.78 609.58L830.09 607.92L835.4 606.24L840.7 604.56L846.01 602.88L851.32 601.19L856.62 599.5L861.93 597.8L867.23 596.1L872.54 594.39L877.85 592.68L883.15 590.97L888.46 589.26L893.77 587.54L899.07 585.82L904.38 584.1L909.68 582.38L914.99 580.65" class="ci" stroke-width="1.28"/>
<path d="M596.62 692.51L601.92 690.93L607.23 689.35L612.54 687.8L617.84 686.27L623.15 684.75L628.46 683.26L633.76 681.8L639.07 680.37L644.37 678.96L649.68 677.6L654.99 676.27L660.29 674.99L665.6 673.75L670.9 672.57L676.21 671.44L681.52 670.36L686.82 669.35L692.13 668.39L697.44 667.5L702.74 666.66L708.05 665.88L713.35 665.16L718.66 664.5L723.97 663.88L729.27 663.31L734.58 662.78L739.89 662.28L745.19 661.83L750.5 661.4L755.8 661.01L761.11 660.64L766.42 660.29L771.72 659.97L777.03 659.66L782.34 659.37L787.64 659.09L792.95 658.83L798.25 658.58L803.56 658.34L808.87 658.11L814.17 657.89L819.48 657.68L824.78 657.48L830.09 657.28L835.4 657.09L840.7 656.9L846.01 656.72L851.32 656.55L856.62 656.38L861.93 656.21L867.23 656.05L872.54 655.89L877.85 655.73L883.15 655.57L888.46 655.42L893.77 655.27L899.07 655.13L904.38 654.98L909.68 654.84L914.99 654.7" class="ci" stroke-width="1.28"/>
<path d="M596.62 673.63L914.99 617.68" stroke="#000" stroke-width="1.28" fill="none"/>
<ellipse cx="692.87" cy="574.3" rx="5.14" ry="4.71"/>
<ellipse cx="596.62" cy="637.1" rx="5.14" ry="4.71"/>
<ellipse cx="621.3" cy="632" rx="5.14" ry="4.71"/>
<ellipse cx="626.23" cy="632.1" rx="5.14" ry="4.71"/>
<ellipse cx="678.06" cy="632.1" rx="5.14" ry="4.71"/>
<ellipse cx="766.91" cy="619.9" rx="5.14" ry="4.71"/>
<ellipse cx="757.04" cy="628.4" rx="5.14" ry="4.71"/>
<ellipse cx="754.57" cy="642.7" rx="5.14" ry="4.71"/>
<ellipse cx="766.91" cy="642.7" rx="5.14" ry="4.71"/>
<ellipse cx="618.83" cy="651.5" rx="5.14" ry="4.71"/>
<ellipse cx="643.51" cy="652" rx="5.14" ry="4.71"/>
<ellipse cx="618.83" cy="660.9" rx="5.14" ry="4.71"/>
<ellipse cx="692.87" cy="656.2" rx="5.14" ry="4.71"/>
<ellipse cx="707.68" cy="653.8" rx="5.14" ry="4.71"/>
<ellipse cx="742.23" cy="666" rx="5.14" ry="4.71"/>
<ellipse cx="742.23" cy="672.3" rx="5.14" ry="4.71"/>
<ellipse cx="618.83" cy="676.2" rx="5.14" ry="4.71"/>
<ellipse cx="623.77" cy="679.3" rx="5.14" ry="4.71"/>
<ellipse cx="631.17" cy="675.1" rx="5.14" ry="4.71"/>
<ellipse cx="633.64" cy="677.3" rx="5.14" ry="4.71"/>
<ellipse cx="717.55" cy="678.4" rx="5.14" ry="4.71"/>
<ellipse cx="687.93" cy="680.1" rx="5.14" ry="4.71"/>
<ellipse cx="687.93" cy="687" rx="5.14" ry="4.71"/>
<ellipse cx="695.34" cy="690.4" rx="5.14" ry="4.71"/>
<ellipse cx="668.19" cy="699.2" rx="5.14" ry="4.71"/>
<ellipse cx="710.15" cy="701.1" rx="5.14" ry="4.71"/>
<ellipse cx="596.62" cy="718" rx="5.14" ry="4.71"/>
<ellipse cx="840.95" cy="652.3" rx="5.14" ry="4.71"/>
<ellipse cx="914.99" cy="583.3" rx="5.14" ry="4.71"/>
<text x="776.5" y="872.9" class="lab" text-anchor="middle">(E)</text>
</g>
<g id="panelF">
<path d="M1113.25 534.68V768.53" stroke="#000" stroke-width="2.45" fill="none"/>
<path d="M1102.85 759.4H1481.37" stroke="#000" stroke-width="2.24" fill="none"/>
<path d="M1102.85 714.68H1113.25M1102.85 669.96H1113.25M1102.85 625.24H1113.25M1102.85 580.52H1113.25M1102.85 535.8H1113.25" stroke="#000" stroke-width="2.24" fill="none"/>
<path d="M1137.71 759.4v5.59M1162.17 759.4v5.59M1186.63 759.4v5.59M1211.09 759.4v5.59M1235.55 759.4v9.13M1260.01 759.4v5.59M1284.47 759.4v5.59M1308.93 759.4v5.59M1333.39 759.4v5.59M1357.85 759.4v9.13M1382.31 759.4v5.59M1406.77 759.4v5.59M1431.23 759.4v5.59M1455.69 759.4v5.59M1480.15 759.4v9.13" stroke="#000" stroke-width="2.45" fill="none"/>
<text transform="translate(1099.08 765.17) scale(1.0192 0.9317)" font-size="17.3" class="b" text-anchor="end">0.0</text>
<text transform="translate(1099.08 720.45) scale(1.0192 0.9317)" font-size="17.3" class="b" text-anchor="end">0.2</text>
<text transform="translate(1099.08 675.73) scale(1.0192 0.9317)" font-size="17.3" class="b" text-anchor="end">0.4</text>
<text transform="translate(1099.08 631.01) scale(1.0192 0.9317)" font-size="17.3" class="b" text-anchor="end">0.6</text>
<text transform="translate(1099.08 586.29) scale(1.0192 0.9317)" font-size="17.3" class="b" text-anchor="end">0.8</text>
<text transform="translate(1099.08 541.57) scale(1.0192 0.9317)" font-size="17.3" class="b" text-anchor="end">1.0</text>
<text transform="translate(1113.25 787.26) scale(1.0192 0.9317)" font-size="17.3" class="b" text-anchor="middle">0</text>
<text transform="translate(1235.55 787.26) scale(1.0192 0.9317)" font-size="17.3" class="b" text-anchor="middle">5</text>
<text transform="translate(1357.85 787.26) scale(1.0192 0.9317)" font-size="17.3" class="b" text-anchor="middle">10</text>
<text transform="translate(1480.15 787.26) scale(1.0192 0.9317)" font-size="17.3" class="b" text-anchor="middle">15</text>
<text transform="translate(1297.2 816) scale(1.0192 0.9317)" font-size="19.77" class="b" text-anchor="middle" textLength="265.71" lengthAdjust="spacingAndGlyphs">Duration of infection (years)</text>
<text transform="translate(1063.1 646.3) scale(1.0192 0.9317) rotate(-90)" font-size="19.77" class="b" text-anchor="middle" textLength="310.41" lengthAdjust="spacingAndGlyphs">STG.R_S-Bold signal change (%)</text>
<text transform="translate(1441.1 723.3) scale(1.0192 0.9317)" font-size="19.5" class="n" textLength="79.28" lengthAdjust="spacingAndGlyphs"><tspan font-style="italic">r</tspan> = 0.395</text>
<text transform="translate(1440.9 744.9) scale(1.0192 0.9317)" font-size="19.5" class="n" textLength="82.81" lengthAdjust="spacingAndGlyphs"><tspan font-style="italic">p</tspan> = 0.034</text>
<path d="M1115.7 668.42L1120.95 668.16L1126.21 667.89L1131.47 667.61L1136.73 667.3L1141.99 666.97L1147.25 666.62L1152.51 666.25L1157.77 665.84L1163.03 665.4L1168.28 664.93L1173.54 664.41L1178.8 663.86L1184.06 663.26L1189.32 662.6L1194.58 661.9L1199.84 661.13L1205.1 660.31L1210.36 659.43L1215.62 658.49L1220.87 657.49L1226.13 656.44L1231.39 655.32L1236.65 654.16L1241.91 652.94L1247.17 651.68L1252.43 650.38L1257.69 649.04L1262.95 647.66L1268.2 646.25L1273.46 644.82L1278.72 643.36L1283.98 641.87L1289.24 640.37L1294.5 638.84L1299.76 637.3L1305.02 635.75L1310.28 634.18L1315.53 632.6L1320.79 631.01L1326.05 629.41L1331.31 627.8L1336.57 626.18L1341.83 624.56L1347.09 622.92L1352.35 621.28L1357.61 619.64L1362.86 617.99L1368.12 616.34L1373.38 614.68L1378.64 613.02L1383.9 611.35L1389.16 609.68L1394.42 608.01L1399.68 606.33L1404.94 604.66L1410.19 602.98L1415.45 601.29L1420.71 599.61L1425.97 597.92L1431.23 596.23" class="ci" stroke-width="1.27"/>
<path d="M1115.7 705.86L1120.95 704.31L1126.21 702.78L1131.47 701.26L1136.73 699.76L1141.99 698.28L1147.25 696.82L1152.51 695.39L1157.77 693.99L1163.03 692.62L1168.28 691.29L1173.54 690L1178.8 688.75L1184.06 687.54L1189.32 686.39L1194.58 685.29L1199.84 684.25L1205.1 683.26L1210.36 682.34L1215.62 681.47L1220.87 680.66L1226.13 679.91L1231.39 679.22L1236.65 678.58L1241.91 677.99L1247.17 677.44L1252.43 676.94L1257.69 676.47L1262.95 676.04L1268.2 675.64L1273.46 675.27L1278.72 674.93L1283.98 674.61L1289.24 674.3L1294.5 674.02L1299.76 673.75L1305.02 673.5L1310.28 673.26L1315.53 673.04L1320.79 672.82L1326.05 672.62L1331.31 672.42L1336.57 672.23L1341.83 672.05L1347.09 671.88L1352.35 671.71L1357.61 671.55L1362.86 671.39L1368.12 671.24L1373.38 671.09L1378.64 670.94L1383.9 670.8L1389.16 670.67L1394.42 670.53L1399.68 670.4L1404.94 670.27L1410.19 670.15L1415.45 670.02L1420.71 669.9L1425.97 669.78L1431.23 669.67" class="ci" stroke-width="1.27"/>
<path d="M1115.7 687.14L1431.23 632.95" stroke="#000" stroke-width="1.27" fill="none"/>
<ellipse cx="1211.09" cy="574.6" rx="5.1" ry="4.66"/>
<ellipse cx="1115.7" cy="638.8" rx="5.1" ry="4.66"/>
<ellipse cx="1140.16" cy="652" rx="5.1" ry="4.66"/>
<ellipse cx="1145.05" cy="658.2" rx="5.1" ry="4.66"/>
<ellipse cx="1196.41" cy="656.3" rx="5.1" ry="4.66"/>
<ellipse cx="1284.47" cy="640.6" rx="5.1" ry="4.66"/>
<ellipse cx="1274.69" cy="646.3" rx="5.1" ry="4.66"/>
<ellipse cx="1272.24" cy="663.2" rx="5.1" ry="4.66"/>
<ellipse cx="1284.47" cy="670.4" rx="5.1" ry="4.66"/>
<ellipse cx="1137.71" cy="666.8" rx="5.1" ry="4.66"/>
<ellipse cx="1137.71" cy="673.9" rx="5.1" ry="4.66"/>
<ellipse cx="1137.71" cy="683.2" rx="5.1" ry="4.66"/>
<ellipse cx="1162.17" cy="676" rx="5.1" ry="4.66"/>
<ellipse cx="1225.77" cy="674.2" rx="5.1" ry="4.66"/>
<ellipse cx="1235.55" cy="682.8" rx="5.1" ry="4.66"/>
<ellipse cx="1260.01" cy="678.9" rx="5.1" ry="4.66"/>
<ellipse cx="1260.01" cy="690.3" rx="5.1" ry="4.66"/>
<ellipse cx="1206.2" cy="685.9" rx="5.1" ry="4.66"/>
<ellipse cx="1211.09" cy="688" rx="5.1" ry="4.66"/>
<ellipse cx="1213.54" cy="690.4" rx="5.1" ry="4.66"/>
<ellipse cx="1206.2" cy="696.9" rx="5.1" ry="4.66"/>
<ellipse cx="1142.6" cy="696.1" rx="5.1" ry="4.66"/>
<ellipse cx="1149.94" cy="692.1" rx="5.1" ry="4.66"/>
<ellipse cx="1152.39" cy="691" rx="5.1" ry="4.66"/>
<ellipse cx="1186.63" cy="710.2" rx="5.1" ry="4.66"/>
<ellipse cx="1228.21" cy="710.2" rx="5.1" ry="4.66"/>
<ellipse cx="1115.7" cy="717" rx="5.1" ry="4.66"/>
<ellipse cx="1357.85" cy="668.4" rx="5.1" ry="4.66"/>
<ellipse cx="1431.23" cy="586" rx="5.1" ry="4.66"/>
<text x="1304.4" y="872.9" class="lab" text-anchor="middle">(F)</text>
</g>
<g id="panelG">
<path d="M70.7 987.65V1227.88" stroke="#000" stroke-width="2.31" fill="none"/>
<path d="M60.9 1218.5H417.6" stroke="#000" stroke-width="2.3" fill="none"/>
<path d="M60.9 1161.08H70.7M60.9 1103.65H70.7M60.9 1046.22H70.7M60.9 988.8H70.7" stroke="#000" stroke-width="2.3" fill="none"/>
<path d="M93.75 1218.5v5.74M116.8 1218.5v5.74M139.85 1218.5v5.74M162.9 1218.5v5.74M185.95 1218.5v9.38M209 1218.5v5.74M232.05 1218.5v5.74M255.1 1218.5v5.74M278.15 1218.5v5.74M301.2 1218.5v9.38M324.25 1218.5v5.74M347.3 1218.5v5.74M370.35 1218.5v5.74M393.4 1218.5v5.74M416.45 1218.5v9.38" stroke="#000" stroke-width="2.31" fill="none"/>
<text transform="translate(57.35 1224.43) scale(0.9604 0.9571)" font-size="17.3" class="b" text-anchor="end">0.0</text>
<text transform="translate(57.35 1167) scale(0.9604 0.9571)" font-size="17.3" class="b" text-anchor="end">0.2</text>
<text transform="translate(57.35 1109.58) scale(0.9604 0.9571)" font-size="17.3" class="b" text-anchor="end">0.4</text>
<text transform="translate(57.35 1052.15) scale(0.9604 0.9571)" font-size="17.3" class="b" text-anchor="end">0.6</text>
<text transform="translate(57.35 994.73) scale(0.9604 0.9571)" font-size="17.3" class="b" text-anchor="end">0.8</text>
<text transform="translate(70.7 1247.12) scale(0.9604 0.9571)" font-size="17.3" class="b" text-anchor="middle">0</text>
<text transform="translate(185.95 1247.12) scale(0.9604 0.9571)" font-size="17.3" class="b" text-anchor="middle">5</text>
<text transform="translate(301.2 1247.12) scale(0.9604 0.9571)" font-size="17.3" class="b" text-anchor="middle">10</text>
<text transform="translate(416.45 1247.12) scale(0.9604 0.9571)" font-size="17.3" class="b" text-anchor="middle">15</text>
<text transform="translate(243.75 1275.9) scale(0.9604 0.9571)" font-size="19.77" class="b" text-anchor="middle" textLength="265.82" lengthAdjust="spacingAndGlyphs">Duration of infection (years)</text>
<text transform="translate(22.5 1102.25) scale(0.9604 0.9571) rotate(-90)" font-size="19.77" class="b" text-anchor="middle" textLength="358.48" lengthAdjust="spacingAndGlyphs">IFGtriang.R_S-Bold signal change (%)</text>
<text transform="translate(381 1178.1) scale(0.9604 0.9571)" font-size="19.5" class="n" textLength="78.92" lengthAdjust="spacingAndGlyphs"><tspan font-style="italic">r</tspan> = 0.379</text>
<text transform="translate(380.8 1200.2) scale(0.9604 0.9571)" font-size="19.5" class="n" textLength="83.4" lengthAdjust="spacingAndGlyphs"><tspan font-style="italic">p</tspan> = 0.043</text>
<path d="M73.01 1109.02L77.96 1108.77L82.92 1108.51L87.87 1108.23L92.83 1107.92L97.78 1107.59L102.74 1107.24L107.7 1106.85L112.65 1106.43L117.61 1105.98L122.56 1105.48L127.52 1104.94L132.47 1104.34L137.43 1103.7L142.39 1102.99L147.34 1102.22L152.3 1101.39L157.25 1100.49L162.21 1099.53L167.16 1098.49L172.12 1097.38L177.08 1096.21L182.03 1094.97L186.99 1093.68L191.94 1092.32L196.9 1090.91L201.85 1089.46L206.81 1087.96L211.77 1086.41L216.72 1084.84L221.68 1083.23L226.63 1081.59L231.59 1079.92L236.54 1078.23L241.5 1076.52L246.46 1074.79L251.41 1073.04L256.37 1071.28L261.32 1069.5L266.28 1067.71L271.24 1065.91L276.19 1064.1L281.15 1062.28L286.1 1060.45L291.06 1058.61L296.01 1056.76L300.97 1054.91L305.93 1053.06L310.88 1051.19L315.84 1049.33L320.79 1047.45L325.75 1045.58L330.7 1043.7L335.66 1041.81L340.62 1039.93L345.57 1038.04L350.53 1036.14L355.48 1034.25L360.44 1032.35L365.39 1030.45L370.35 1028.54" class="ci" stroke-width="1.25"/>
<path d="M73.01 1152.32L77.96 1150.57L82.92 1148.84L87.87 1147.14L92.83 1145.45L97.78 1143.79L102.74 1142.16L107.7 1140.56L112.65 1138.99L117.61 1137.45L122.56 1135.96L127.52 1134.52L132.47 1133.12L137.43 1131.78L142.39 1130.5L147.34 1129.28L152.3 1128.12L157.25 1127.03L162.21 1126.01L167.16 1125.06L172.12 1124.17L177.08 1123.36L182.03 1122.6L186.99 1121.91L191.94 1121.28L196.9 1120.7L201.85 1120.17L206.81 1119.68L211.77 1119.23L216.72 1118.82L221.68 1118.44L226.63 1118.09L231.59 1117.77L236.54 1117.47L241.5 1117.19L246.46 1116.93L251.41 1116.69L256.37 1116.47L261.32 1116.26L266.28 1116.06L271.24 1115.87L276.19 1115.69L281.15 1115.52L286.1 1115.37L291.06 1115.21L296.01 1115.07L300.97 1114.93L305.93 1114.8L310.88 1114.67L315.84 1114.55L320.79 1114.43L325.75 1114.32L330.7 1114.21L335.66 1114.11L340.62 1114.01L345.57 1113.91L350.53 1113.81L355.48 1113.72L360.44 1113.63L365.39 1113.54L370.35 1113.46" class="ci" stroke-width="1.25"/>
<path d="M73.01 1130.67L370.35 1071" stroke="#000" stroke-width="1.25" fill="none"/>
<ellipse cx="162.9" cy="1003.4" rx="4.8" ry="4.79"/>
<ellipse cx="73.01" cy="1083.2" rx="4.8" ry="4.79"/>
<ellipse cx="232.05" cy="1072.1" rx="4.8" ry="4.79"/>
<ellipse cx="93.75" cy="1098.8" rx="4.8" ry="4.79"/>
<ellipse cx="96.06" cy="1099.9" rx="4.8" ry="4.79"/>
<ellipse cx="100.67" cy="1095.4" rx="4.8" ry="4.79"/>
<ellipse cx="232.05" cy="1087.4" rx="4.8" ry="4.79"/>
<ellipse cx="222.83" cy="1091" rx="4.8" ry="4.79"/>
<ellipse cx="93.75" cy="1110.1" rx="4.8" ry="4.79"/>
<ellipse cx="149.07" cy="1106.2" rx="4.8" ry="4.79"/>
<ellipse cx="162.9" cy="1109.5" rx="4.8" ry="4.79"/>
<ellipse cx="176.73" cy="1115.1" rx="4.8" ry="4.79"/>
<ellipse cx="220.53" cy="1114" rx="4.8" ry="4.79"/>
<ellipse cx="116.8" cy="1122.6" rx="4.8" ry="4.79"/>
<ellipse cx="93.75" cy="1127.6" rx="4.8" ry="4.79"/>
<ellipse cx="105.28" cy="1126.7" rx="4.8" ry="4.79"/>
<ellipse cx="107.58" cy="1132.5" rx="4.8" ry="4.79"/>
<ellipse cx="98.36" cy="1138.6" rx="4.8" ry="4.79"/>
<ellipse cx="185.95" cy="1129.2" rx="4.8" ry="4.79"/>
<ellipse cx="209" cy="1128.5" rx="4.8" ry="4.79"/>
<ellipse cx="158.29" cy="1132" rx="4.8" ry="4.79"/>
<ellipse cx="158.29" cy="1135.9" rx="4.8" ry="4.79"/>
<ellipse cx="165.2" cy="1140.6" rx="4.8" ry="4.79"/>
<ellipse cx="209" cy="1149.5" rx="4.8" ry="4.79"/>
<ellipse cx="139.85" cy="1154.2" rx="4.8" ry="4.79"/>
<ellipse cx="179.04" cy="1162.5" rx="4.8" ry="4.79"/>
<ellipse cx="73.01" cy="1174.7" rx="4.8" ry="4.79"/>
<ellipse cx="301.2" cy="1112.4" rx="4.8" ry="4.79"/>
<ellipse cx="370.35" cy="1020" rx="4.8" ry="4.79"/>
<text x="238.7" y="1338.3" class="lab" text-anchor="middle">(G)</text>
</g>
</svg>
</body></html>
